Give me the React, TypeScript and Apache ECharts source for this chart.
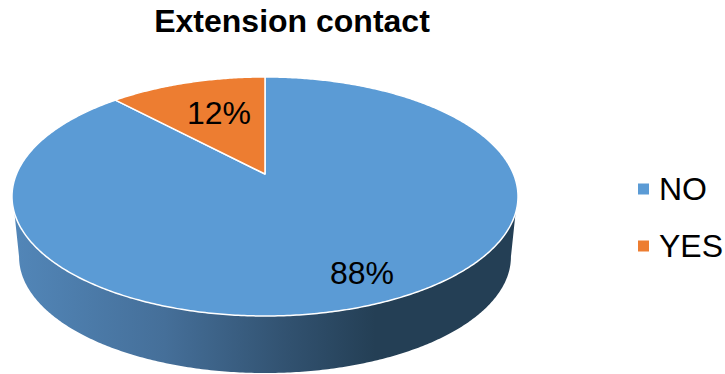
import React, { useEffect, useRef } from "react";
import * as echarts from "echarts";

const categories = ["NO", "YES"];
const shares = [88, 12];
const sliceColors = ["#5b9bd5", "#ed7d31"];
const titleText = "Extension contact";

const FONT = '"Liberation Sans", Arial, sans-serif';

// Perspective disc: apex of the slices, projected radii and vanishing factor.
const CX = 265;
const CY = 174;
const RX = 248.5;
const RY = 115.3;
const K = 0.188;
// Lower rim of the drum relative to the top disc.
const DROP = 61;
const LOWER_SCALE = 0.972;

// Angle measured clockwise from twelve o'clock; radius is a fraction of the disc.
function project(angle: number, radius = 1, drop = 0, scale = 1): number[] {
  const u = Math.sin(angle) * radius;
  const v = Math.cos(angle) * radius;
  const d = 1 + K * v;
  return [CX + (scale * RX * u) / d, CY + drop + (scale * RY * -v) / d];
}

function arcPoints(from: number, to: number, drop = 0, scale = 1): number[][] {
  const steps = Math.max(2, Math.ceil(Math.abs(to - from) / 0.01));
  const pts: number[][] = [];
  for (let i = 0; i <= steps; i++) {
    pts.push(project(from + ((to - from) * i) / steps, 1, drop, scale));
  }
  return pts;
}

const total = shares.reduce((a, b) => a + b, 0);
const sliceStart = (index: number) =>
  (shares.slice(0, index).reduce((a, b) => a + b, 0) / total) * Math.PI * 2;

// Where each percentage sits on the disc.
const labelSpots = [
  [362, 273],
  [219, 113],
];

function renderDrum() {
  // The wall leaves the disc a little below its widest point and ends on the lower rim's tangents.
  const upperStart = 1.895;
  const lowerStart = 1.76;
  const full = Math.PI * 2;
  const upper = arcPoints(upperStart, full - upperStart);
  const lower = arcPoints(full - lowerStart, lowerStart, DROP, LOWER_SCALE);
  return {
    type: "polygon",
    shape: { points: upper.concat(lower) },
    style: {
      fill: new echarts.graphic.LinearGradient(0, 0, 1, 0, [
        { offset: 0, color: "#5286b8" },
        { offset: 0.3, color: "#456f99" },
        { offset: 0.55, color: "#31516f" },
        { offset: 0.72, color: "#243f55" },
        { offset: 1, color: "#243f55" },
      ]),
    },
  };
}

function renderSlice(index: number, color: string) {
  const from = sliceStart(index);
  const to = from + (shares[index] / total) * Math.PI * 2;
  const spot = labelSpots[index];
  return {
    type: "group",
    children: [
      {
        type: "polygon",
        shape: { points: [[CX, CY] as number[]].concat(arcPoints(from, to)) },
        style: { fill: color, stroke: "#ffffff", lineWidth: 1.5, lineJoin: "round" },
      },
      {
        type: "text",
        z2: 10,
        style: {
          text: `${shares[index]}%`,
          x: spot[0],
          y: spot[1],
          align: "center",
          verticalAlign: "middle",
          fill: "#000000",
          font: `32px ${FONT}`,
        },
      },
    ],
  };
}

export default function App() {
  const ref = useRef<HTMLDivElement>(null);

  useEffect(() => {
    if (!ref.current) return;
    const chart = echarts.init(ref.current, undefined, { renderer: "svg" });
    chart.setOption({
      animation: false,
      backgroundColor: "#ffffff",
      title: {
        text: titleText,
        left: 292,
        top: 5,
        padding: 0,
        textAlign: "center",
        textStyle: { fontFamily: FONT, fontSize: 32, fontWeight: "bold", color: "#000000" },
      },
      legend: {
        data: categories,
        orient: "vertical",
        left: 638,
        top: 173,
        padding: 0,
        icon: "rect",
        itemWidth: 11,
        itemHeight: 11,
        itemGap: 25,
        textStyle: { fontFamily: FONT, fontSize: 32, color: "#000000", padding: [0, 0, 0, 5] },
      },
      series: [
        {
          type: "custom",
          name: "wall",
          coordinateSystem: "none",
          silent: true,
          data: [total],
          renderItem: () => renderDrum(),
        },
        ...categories.map((name, i) => ({
          type: "custom",
          name,
          coordinateSystem: "none",
          itemStyle: { color: sliceColors[i] },
          data: [shares[i]],
          renderItem: () => renderSlice(i, sliceColors[i]),
        })),
      ],
    });
    return () => chart.dispose();
  }, []);

  return (
    <div
      ref={ref}
      style={{ position: "absolute", left: 0, top: 0, width: 725, height: 374 }}
    />
  );
}
